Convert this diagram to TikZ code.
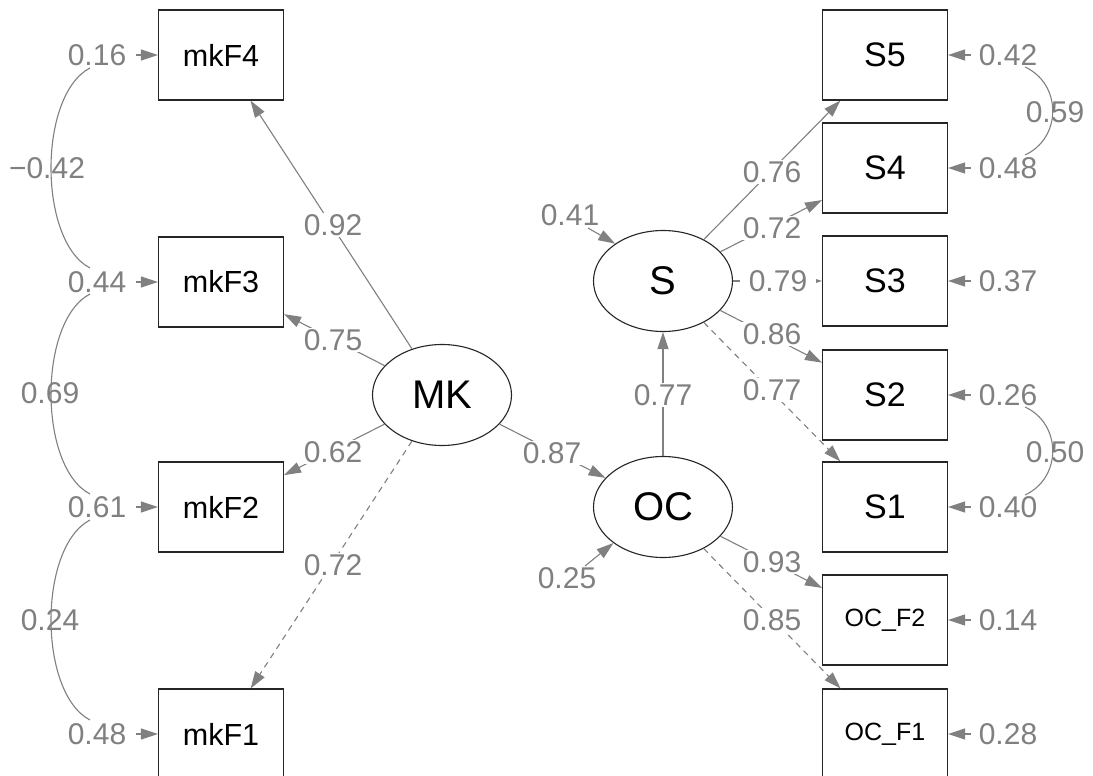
\documentclass[tikz,border=0pt]{standalone}
\usepackage{fontspec}
\setmainfont{Liberation Sans}
\usetikzlibrary{arrows.meta,shapes.geometric}
\definecolor{edgegray}{HTML}{808080}
\definecolor{boxline}{HTML}{262626}
\begin{document}
\begin{tikzpicture}[x=1pt,y=-1pt,
  box/.style={draw=boxline, line width=1.1pt, minimum width=125pt, minimum height=90pt, inner sep=0pt},
  mkbox/.style={box, font=\fontsize{30.5}{32}\selectfont},
  sbox/.style={box, font=\fontsize{34}{36}\selectfont},
  ocbox/.style={box, font=\fontsize{25}{28}\selectfont},
  lat/.style={draw=boxline, line width=1.1pt, ellipse, minimum width=139pt, minimum height=101pt, inner sep=0pt, font=\fontsize{40}{44}\selectfont},
  load/.style={draw=edgegray, line width=1.1pt, -{Triangle[length=17pt,width=11pt]}},
  dload/.style={load, dash pattern=on 6pt off 5pt},
  lab/.style={fill=white, inner sep=1.5pt, text=edgegray, font=\fontsize{30}{32}\selectfont},
  rlab/.style={inner sep=0pt, text=edgegray, font=\fontsize{30}{32}\selectfont},
  cov/.style={draw=edgegray, line width=1.1pt}]
\useasboundingbox (0,0) rectangle (1093,776);
\fill[white] (0,0) rectangle (1093,776);

% observed nodes
\node[mkbox] (mkF4) at (221,55) {mkF4};
\node[mkbox] (mkF3) at (221,282) {mkF3};
\node[mkbox] (mkF2) at (221,507) {mkF2};
\node[mkbox] (mkF1) at (221,734) {mkF1};
\node[sbox] (S5) at (885,55) {S5};
\node[sbox] (S4) at (885,168) {S4};
\node[sbox] (S3) at (885,281) {S3};
\node[sbox] (S2) at (885,395) {S2};
\node[sbox] (S1) at (885,507) {S1};
\node[ocbox] (OCF2) at (885,620) {OC\_F2};
\node[ocbox] (OCF1) at (885,734) {OC\_F1};

% latent nodes
\node[lat] (MK) at (442,395) {MK};
\node[lat] (S) at (663,281) {S};
\node[lat] (OC) at (663,507) {OC};

% loadings
\draw[load] (MK) -- (mkF4);
\draw[load] (MK) -- (mkF3);
\draw[load] (MK) -- (mkF2);
\draw[dload] (MK) -- (mkF1);
\draw[load] (MK) -- (OC);
\draw[load] (OC) -- (S);
\draw[load] (S) -- (S5);
\draw[load] (S) -- (S4);
\draw[load] (S) -- (S3);
\draw[load] (S) -- (S2);
\draw[dload] (S) -- (S1);
\draw[load] (OC) -- (OCF2);
\draw[dload] (OC) -- (OCF1);

\node[lab] at (333,225) {0.92};
\node[lab] at (333,340) {0.75};
\node[lab] at (333,452) {0.62};
\node[lab] at (333,565) {0.72};
\node[lab] at (552,453) {0.87};
\node[lab] at (663,395) {0.77};
\node[lab] at (772,172) {0.76};
\node[lab] at (772,228) {0.72};
\node[lab, inner xsep=9pt] at (778,281) {0.79};
\node[lab] at (772,334) {0.86};
\node[lab] at (772,390) {0.77};
\node[lab] at (772,562) {0.93};
\node[lab] at (772,620) {0.85};

% residuals of observed variables
\node[rlab] (e16) at (97,55) {0.16};
\node[rlab] (e44) at (97,282) {0.44};
\node[rlab] (e61) at (97,507) {0.61};
\node[rlab] (e48a) at (97,734) {0.48};
\draw[load] ([xshift=10pt]e16.east) -- (mkF4);
\draw[load] ([xshift=10pt]e44.east) -- (mkF3);
\draw[load] ([xshift=10pt]e61.east) -- (mkF2);
\draw[load] ([xshift=10pt]e48a.east) -- (mkF1);

\node[rlab] (e42) at (1008,55) {0.42};
\node[rlab] (e48b) at (1008,168) {0.48};
\node[rlab] (e37) at (1008,281) {0.37};
\node[rlab] (e26) at (1008,395) {0.26};
\node[rlab] (e40) at (1008,507) {0.40};
\node[rlab] (e14) at (1008,620) {0.14};
\node[rlab] (e28) at (1008,734) {0.28};
\draw[load] ([xshift=-8pt]e42.west) -- (S5);
\draw[load] ([xshift=-8pt]e48b.west) -- (S4);
\draw[load] ([xshift=-8pt]e37.west) -- (S3);
\draw[load] ([xshift=-8pt]e26.west) -- (S2);
\draw[load] ([xshift=-8pt]e40.west) -- (S1);
\draw[load] ([xshift=-8pt]e14.west) -- (OCF2);
\draw[load] ([xshift=-8pt]e28.west) -- (OCF1);

% residuals of latent variables
\node[rlab] (e41) at (570,215) {0.41};
\coordinate (a41) at (588,228);
\draw[load] (a41) -- (S.142);
\node[rlab] (e25) at (567,578) {0.25};
\coordinate (a25) at (585,566);
\draw[load] (a25) -- (OC.216);

% residual covariances
\coordinate (c1a) at (90,68);
\coordinate (c1b) at (90,268);
\coordinate (c2a) at (90,294);
\coordinate (c2b) at (90,494);
\coordinate (c3a) at (90,520);
\coordinate (c3b) at (90,720);
\draw[cov] (c1a) .. controls (38,95) and (38,241) .. (c1b);
\draw[cov] (c2a) .. controls (38,321) and (38,467) .. (c2b);
\draw[cov] (c3a) .. controls (38,547) and (38,693) .. (c3b);
\node[rlab] at (47,168) {−0.42};
\node[rlab] at (50,393) {0.69};
\node[rlab] at (50,620) {0.24};

\coordinate (c4a) at (1025,67);
\coordinate (c4b) at (1025,155);
\coordinate (c5a) at (1025,407);
\coordinate (c5b) at (1025,495);
\draw[cov] (c4a) .. controls (1062,84) and (1062,138) .. (c4b);
\draw[cov] (c5a) .. controls (1062,424) and (1062,478) .. (c5b);
\node[rlab] at (1055,112) {0.59};
\node[rlab] at (1055,452) {0.50};
\end{tikzpicture}
\end{document}
